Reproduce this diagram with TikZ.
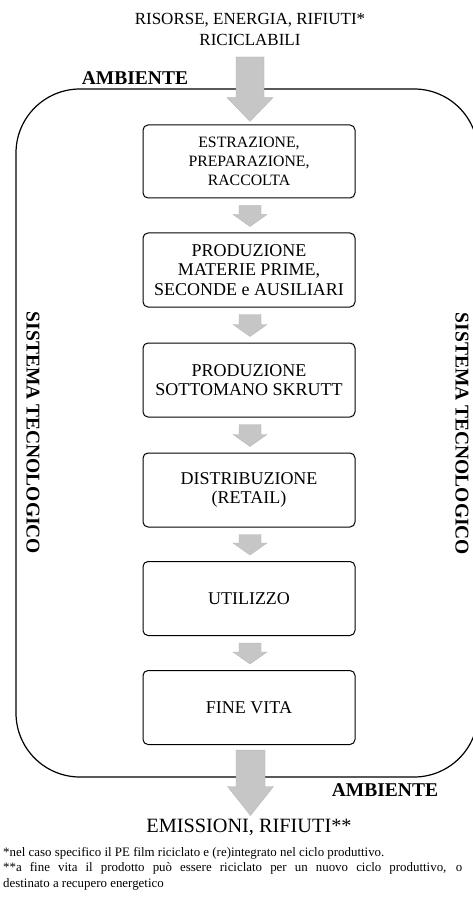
\documentclass[tikz,border=0pt]{standalone}
\usepackage{fontspec}
\setmainfont{Liberation Serif}
\usetikzlibrary{calc}
\definecolor{arrowfill}{RGB}{198,198,198}
\tikzset{
  stepbox/.style={draw=black, line width=1pt, rounded corners=5pt,
    minimum width=212pt, minimum height=74pt, align=center, inner sep=2pt,
    font=\fontsize{18}{19.5}\selectfont},
  envlabel/.style={font=\fontsize{19.5}{21}\selectfont\bfseries, inner sep=0pt},
  flowtext/.style={align=center, inner sep=0pt},
  blockarrow/.style={fill=arrowfill, draw=arrowfill!90!black, line width=0.3pt},
}
% vertical block arrow: #1 top of shaft, #2 tip, #3 shaft half width,
% #4 head half width, #5 head length
\newcommand\blockdown[5]{%
  \path[blockarrow] ($(#1)+(-#3,0)$) -- ($(#1)+(#3,0)$) -- ($(#2)+(#3,-#5)$)
    -- ($(#2)+(#4,-#5)$) -- (#2) -- ($(#2)+(-#4,-#5)$) -- ($(#2)+(-#3,-#5)$) -- cycle;}
\begin{document}
\begin{tikzpicture}[x=1pt,y=-1pt]
\useasboundingbox (0,0) rectangle (472,901);
\fill[white] (0,0) rectangle (472,901);

% technological system boundary
\draw[line width=1.2pt, rounded corners=64pt] (16,89) rectangle (478,777);

% input and output texts
\node[flowtext, font=\fontsize{17}{21}\selectfont] (src) at (250,29)
  {RISORSE, ENERGIA, RIFIUTI*\\RICICLABILI};
\node[flowtext, font=\fontsize{20.3}{22}\selectfont] (out) at (249,827) {EMISSIONI, RIFIUTI**};

% environment labels
\node[envlabel] (envtop) at (135,78) {AMBIENTE};
\node[envlabel] (envbot) at (385,790) {AMBIENTE};
\node[envlabel, rotate=-90] (sysl) at (33,433) {SISTEMA TECNOLOGICO};
\node[envlabel, rotate=-90] (sysr) at (462,434) {SISTEMA TECNOLOGICO};

% life cycle phases
\node[stepbox, minimum height=73pt, font=\fontsize{15.8}{19}\selectfont] (b1) at (249,161.5)
  {ESTRAZIONE,\\PREPARAZIONE,\\RACCOLTA};
\node[stepbox] (b2) at (249,270) {PRODUZIONE\\MATERIE PRIME,\\SECONDE e AUSILIARI};
\node[stepbox] (b3) at (249,380) {PRODUZIONE\\SOTTOMANO SKRUTT};
\node[stepbox] (b4) at (249,490) {DISTRIBUZIONE\\(RETAIL)};
\node[stepbox] (b5) at (249,598.5) {UTILIZZO};
\node[stepbox] (b6) at (249,707.5) {FINE VITA};

% flow arrows
\coordinate (intop) at (250,57);
\blockdown{intop}{$(b1.north)+(1,-3)$}{14}{23}{24}
\blockdown{$(b1.south)+(1,7)$}{$(b2.north)+(1,-6)$}{11}{17}{12}
\blockdown{$(b2.south)+(1,7)$}{$(b3.north)+(1,-6)$}{11}{17}{12}
\blockdown{$(b3.south)+(1,7)$}{$(b4.north)+(1,-6)$}{11}{17}{12}
\blockdown{$(b4.south)+(1,7)$}{$(b5.north)+(1,-6)$}{11}{17}{12}
\blockdown{$(b5.south)+(1,7)$}{$(b6.north)+(1,-6)$}{11}{17}{12}
\blockdown{$(b6.south)+(1.5,5)$}{$(out.north)+(1.5,-3)$}{14.5}{23}{29}

% footnotes (second line justified to the full width)
\node[anchor=north west, align=left, inner sep=0pt,
  font=\fontsize{12.9}{15.5}\selectfont] (notes) at (3,847)
  {*nel caso specifico il PE film riciclato e (re)integrato nel ciclo produttivo.\\
   \makebox[459pt][s]{**a fine vita il prodotto può essere riciclato per un nuovo ciclo produttivo, o}\\
   destinato a recupero energetico};
\end{tikzpicture}
\end{document}
